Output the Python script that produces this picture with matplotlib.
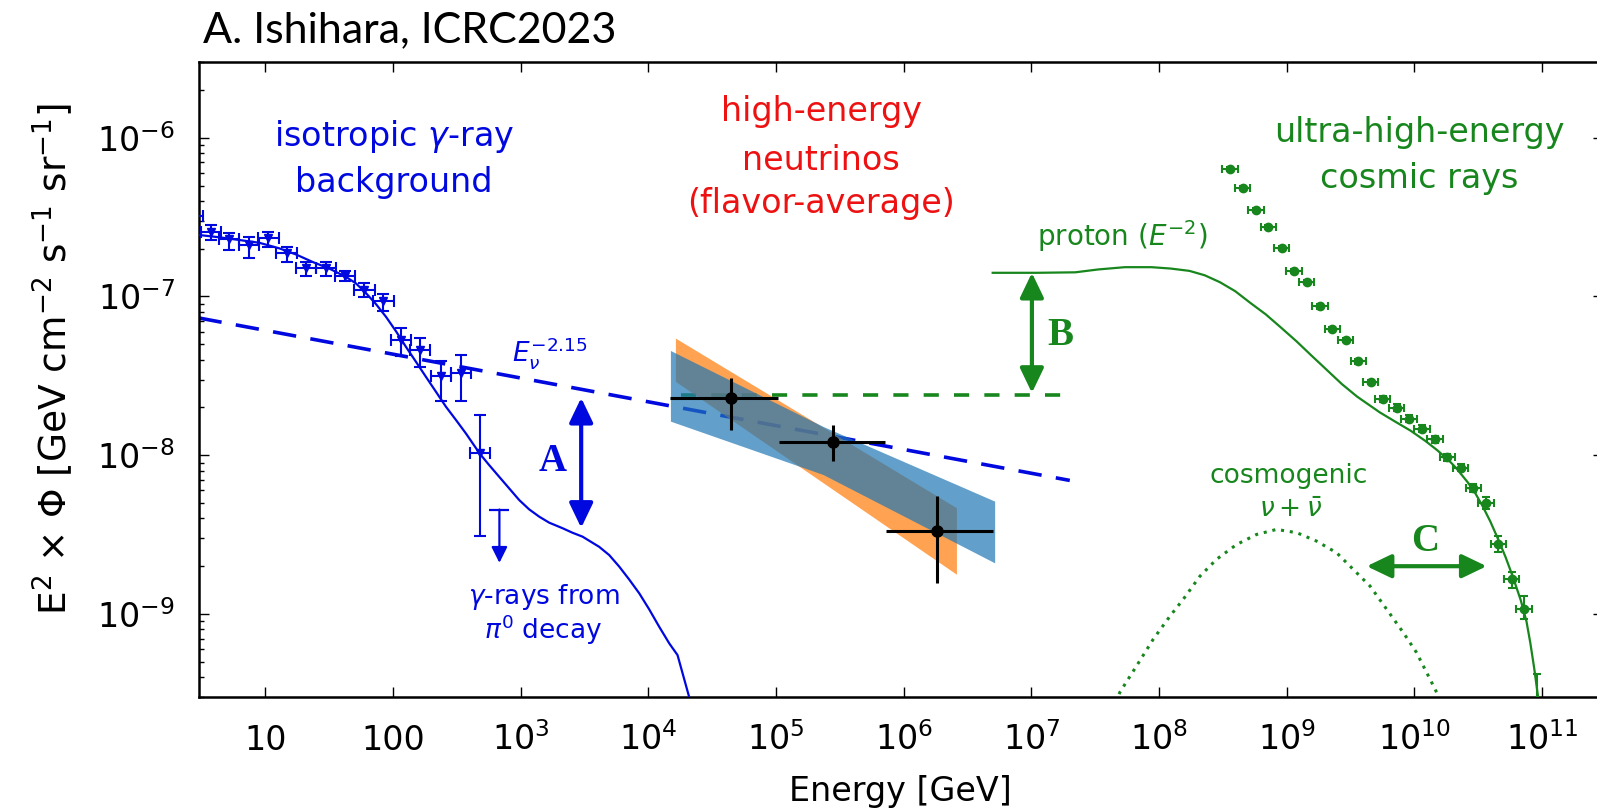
import matplotlib
matplotlib.use('Agg')
import matplotlib.pyplot as plt
import numpy as np

BLUE = '#0008e0'
GREEN = '#17861c'
RED = '#ee1111'

# isotropic gamma-ray background points (GeV, GeV cm^-2 s^-1 sr^-1)
igrb_e = [2.7, 3.75, 5.22, 7.49, 10.6, 14.7, 20.8, 29.9, 42.1, 59.7, 84.1, 116, 163, 238, 342, 482]
igrb_flux = [3.2e-7, 2.56e-7, 2.30e-7, 2.11e-7, 2.33e-7, 1.87e-7, 1.51e-7, 1.51e-7, 1.35e-7,
             1.10e-7, 9.3e-8, 5.3e-8, 4.6e-8, 3.14e-8, 3.3e-8, 1.03e-8]
igrb_lo = [2.9e-7, 2.27e-7, 1.97e-7, 1.74e-7, 2.06e-7, 1.66e-7, 1.34e-7, 1.34e-7, 1.25e-7,
           9.9e-8, 8.1e-8, 4.2e-8, 3.6e-8, 2.2e-8, 2.2e-8, 3.1e-9]
igrb_hi = [3.5e-7, 2.82e-7, 2.50e-7, 2.36e-7, 2.56e-7, 2.06e-7, 1.66e-7, 1.66e-7, 1.44e-7,
           1.22e-7, 1.04e-7, 6.3e-8, 5.5e-8, 3.9e-8, 4.3e-8, 1.80e-8]
igrb_bin_dex = 0.08
igrb_ul_e = 682
igrb_ul_flux = 4.55e-9
igrb_ul_tip = 2.1e-9

# gamma rays from pi0 decay
pi0_e = [3.04, 4.37, 6.25, 8.97, 12.9, 17.4, 23.5, 31.7, 42.8, 51.3, 61.5, 73.6, 88.2, 105.5,
         126.4, 151.4, 181.2, 217.3, 260.2, 311.2, 373.3, 480, 567, 679, 814, 975, 1167, 1400,
         1675, 2130, 2547, 3055, 3656, 4121, 4943, 5915, 7080, 8490, 10160, 12170, 14590,
         16940, 20890, 25060]
pi0_flux = [2.44e-7, 2.36e-7, 2.27e-7, 2.18e-7, 2.01e-7, 1.84e-7, 1.65e-7, 1.50e-7, 1.33e-7,
            1.21e-7, 1.05e-7, 8.96e-8, 7.45e-8, 6.05e-8, 4.82e-8, 3.88e-8, 3.12e-8, 2.51e-8,
            2.02e-8, 1.67e-8, 1.37e-8, 1.02e-8, 8.67e-9, 7.32e-9, 6.18e-9, 5.22e-9, 4.56e-9,
            4.10e-9, 3.76e-9, 3.47e-9, 3.25e-9, 3.07e-9, 2.81e-9, 2.65e-9, 2.35e-9, 1.99e-9,
            1.65e-9, 1.35e-9, 1.07e-9, 8.31e-10, 6.53e-10, 5.51e-10, 3.0e-10, 1.85e-10]

# E^-2.15 neutrino power law
pl_e = [3.0, 2.0e7]
pl_flux = [7.33e-8, 6.94e-9]

# neutrino bands
orange_e = [1.63e4, 2.59e6]
orange_lo = [2.92e-8, 1.78e-9]
orange_hi = [5.47e-8, 4.67e-9]
blue_band_e = [1.49e4, 2.33e5, 5.16e6]
blue_band_lo = [1.64e-8, 7.57e-9, 2.10e-9]
blue_band_hi = [4.57e-8, 1.52e-8, 5.14e-9]

# neutrino data points
nu_e = [4.47e4, 2.79e5, 1.84e6]
nu_e_lo = [1.49e4, 1.05e5, 7.23e5]
nu_e_hi = [1.03e5, 7.19e5, 5.01e6]
nu_flux = [2.28e-8, 1.22e-8, 3.33e-9]
nu_lo = [1.45e-8, 9.26e-9, 1.57e-9]
nu_hi = [3.07e-8, 1.54e-8, 5.52e-9]

# green dashed level
cr_nu_e = [1.8e4, 1.9e7]
cr_nu_flux = [2.38e-8, 2.38e-8]

# proton (E^-2) model
proton_e = [4.98e6, 1.11e7, 2.21e7, 3.33e7, 5.40e7, 8.71e7, 1.23e8, 1.73e8, 2.28e8, 3.00e8,
            3.95e8, 5.20e8, 6.85e8, 9.02e8, 1.19e9, 1.56e9, 2.05e9, 2.70e9, 3.56e9, 5.37e9,
            7.06e9, 9.31e9, 1.22e10, 1.50e10, 1.85e10, 2.12e10, 2.61e10, 2.99e10, 3.43e10,
            3.93e10, 4.51e10, 5.18e10, 5.94e10, 6.81e10, 7.55e10, 8.09e10, 8.67e10, 9.29e10,
            9.62e10]
proton_flux = [1.41e-7, 1.41e-7, 1.42e-7, 1.48e-7, 1.53e-7, 1.53e-7, 1.50e-7, 1.45e-7, 1.36e-7,
               1.23e-7, 1.08e-7, 9.1e-8, 7.72e-8, 6.37e-8, 5.23e-8, 4.25e-8, 3.46e-8, 2.81e-8,
               2.34e-8, 1.86e-8, 1.63e-8, 1.43e-8, 1.23e-8, 1.08e-8, 9.33e-9, 8.32e-9, 6.77e-9,
               5.79e-9, 4.76e-9, 3.83e-9, 2.98e-9, 2.28e-9, 1.69e-9, 1.22e-9, 8.97e-10,
               6.57e-10, 4.57e-10, 3.03e-10, 2.10e-10]

# UHECR data
uhecr_e = [3.59e8, 4.51e8, 5.74e8, 7.16e8, 9.12e8, 1.14e9, 1.43e9, 1.82e9, 2.27e9, 2.89e9,
           3.63e9, 4.54e9, 5.64e9, 7.26e9, 9.07e9, 1.15e10, 1.45e10, 1.81e10, 2.31e10, 2.90e10,
           3.64e10, 4.54e10, 5.78e10, 7.22e10, 9.08e10]
uhecr_flux = [6.32e-7, 4.85e-7, 3.51e-7, 2.73e-7, 2.03e-7, 1.45e-7, 1.24e-7, 8.65e-8, 6.26e-8,
              5.34e-8, 3.90e-8, 2.90e-8, 2.26e-8, 1.99e-8, 1.70e-8, 1.47e-8, 1.26e-8, 9.71e-9,
              8.33e-9, 6.24e-9, 5.02e-9, 2.77e-9, 1.65e-9, 1.07e-9, 2.6e-10]
uhecr_err_lo = [0.03, 0.03, 0.03, 0.03, 0.03, 0.03, 0.03, 0.03, 0.03, 0.03, 0.03, 0.03, 0.04,
                0.05, 0.05, 0.05, 0.05, 0.05, 0.05, 0.06, 0.08, 0.11, 0.11, 0.13, 0.0]
uhecr_err_hi = [0.03, 0.03, 0.03, 0.03, 0.03, 0.03, 0.03, 0.03, 0.03, 0.03, 0.03, 0.03, 0.04,
                0.05, 0.05, 0.05, 0.05, 0.05, 0.05, 0.06, 0.08, 0.12, 0.12, 0.22, 0.61]
uhecr_bin_dex = 0.06

# cosmogenic neutrinos
cosmo_e = [4.11e7, 4.93e7, 6.67e7, 9.0e7, 1.22e8, 1.55e8, 2.09e8, 2.82e8, 4.05e8, 5.81e8, 8.33e8,
           1.20e9, 1.71e9, 2.46e9, 3.32e9, 4.49e9, 6.07e9, 8.18e9, 1.04e10, 1.41e10, 1.54e10, 1.90e10]
cosmo_flux = [2.18e-10, 3.21e-10, 4.71e-10, 6.93e-10, 9.71e-10, 1.24e-9, 1.73e-9, 2.21e-9, 2.74e-9,
              3.17e-9, 3.41e-9, 3.25e-9, 2.88e-9, 2.43e-9, 1.91e-9, 1.50e-9, 1.07e-9, 7.64e-10,
              5.71e-10, 3.52e-10, 3.05e-10, 1.88e-10]

xtick_vals = [1e1, 1e2, 1e3, 1e4, 1e5, 1e6, 1e7, 1e8, 1e9, 1e10, 1e11]
xtick_labels = ['10', '100', r'$10^{3}$', r'$10^{4}$', r'$10^{5}$', r'$10^{6}$', r'$10^{7}$',
                r'$10^{8}$', r'$10^{9}$', r'$10^{10}$', r'$10^{11}$']
ytick_vals = [1e-9, 1e-8, 1e-7, 1e-6]
ytick_labels = [r'$10^{-9}$', r'$10^{-8}$', r'$10^{-7}$', r'$10^{-6}$']

fig = plt.figure(figsize=(15.97, 8.10), dpi=100)
ax = fig.add_axes([198.5 / 1597, 113 / 810, 1404.5 / 1597, 635 / 810])
ax.set_xscale('log')
ax.set_yscale('log')
ax.set_xlim(3, 3e11)
ax.set_ylim(3e-10, 3e-6)

# gamma-ray side
e = np.array(igrb_e)
f = np.array(igrb_flux)
ax.errorbar(e, f, xerr=[e - e / 10**igrb_bin_dex, e * 10**igrb_bin_dex - e],
            yerr=[f - np.array(igrb_lo), np.array(igrb_hi) - f],
            fmt='v', ms=6, color=BLUE, elinewidth=1.5, capsize=4, capthick=1.5, zorder=3)
ax.plot(igrb_ul_e, igrb_ul_flux, marker='_', ms=14, mew=1.6, color=BLUE, zorder=3)
ax.annotate('', xy=(igrb_ul_e, igrb_ul_tip), xytext=(igrb_ul_e, igrb_ul_flux),
            arrowprops=dict(arrowstyle='-|>,head_length=0.8,head_width=0.4', lw=1.6,
                            color=BLUE, mutation_scale=12, shrinkA=0, shrinkB=0))
ax.plot(pi0_e, pi0_flux, color=BLUE, lw=1.6, zorder=3)
ax.plot(pl_e, pl_flux, color=BLUE, lw=2.6, linestyle=(0, (6.5, 4.0)), zorder=2)

# neutrinos
ax.plot(cr_nu_e, cr_nu_flux, color=GREEN, lw=2.6, linestyle=(0, (4.2, 4.2)), zorder=2)
ax.fill_between(orange_e, orange_lo, orange_hi, color='#ff7f0e', alpha=0.72, lw=0, zorder=4)
ax.fill_between(blue_band_e, blue_band_lo, blue_band_hi, color='#1f77b4', alpha=0.7, lw=0, zorder=5)
ne = np.array(nu_e)
nf = np.array(nu_flux)
ax.errorbar(ne, nf, xerr=[ne - np.array(nu_e_lo), np.array(nu_e_hi) - ne],
            yerr=[nf - np.array(nu_lo), np.array(nu_hi) - nf],
            fmt='o', ms=8, color='black', elinewidth=2.2, capsize=0, zorder=6)

# cosmic rays
ax.plot(proton_e, proton_flux, color=GREEN, lw=1.6, zorder=3)
ue = np.array(uhecr_e)
uf = np.array(uhecr_flux)
ax.errorbar(ue, uf, xerr=[ue - ue / 10**uhecr_bin_dex, ue * 10**uhecr_bin_dex - ue],
            yerr=[uf * np.array(uhecr_err_lo), uf * np.array(uhecr_err_hi)],
            fmt='o', ms=6, color=GREEN, elinewidth=1.5, capsize=3, capthick=1.5, zorder=3)
ax.plot(cosmo_e, cosmo_flux, color=GREEN, lw=2.2, linestyle=(0, (1, 1.9)), zorder=3)


def double_arrow(p0, p1, color):
    ax.annotate('', xy=p1, xytext=p0,
                arrowprops=dict(arrowstyle='<|-|>,head_length=0.75,head_width=0.36', lw=3,
                                color=color, mutation_scale=20, shrinkA=0, shrinkB=0),
                zorder=7)


double_arrow((2980, 2.30e-8), (2980, 3.49e-9), BLUE)
double_arrow((1.01e7, 1.41e-7), (1.01e7, 2.47e-8), GREEN)
double_arrow((4.23e9, 2.0e-9), (3.68e10, 2.0e-9), GREEN)

serif = dict(family='Liberation Serif', weight='bold', fontsize=28, ha='center', va='baseline')
ax.text(1766, 7.93e-9, 'A', color=BLUE, **serif)
ax.text(1.68e7, 4.94e-8, 'B', color=GREEN, **serif)
ax.text(1.21e10, 2.49e-9, 'C', color=GREEN, **serif)


def label(x, y, s, color, size):
    ax.text(x, y, s, color=color, fontsize=size, ha='center', va='baseline', zorder=8)


label(102, 8.91e-7, r'isotropic $\gamma$-ray', BLUE, 24)
label(102, 4.57e-7, 'background', BLUE, 24)
label(2.26e5, 1.27e-6, 'high-energy', RED, 24)
label(2.26e5, 6.3e-7, 'neutrinos', RED, 24)
label(2.26e5, 3.34e-7, '(flavor-average)', RED, 24)
label(1.09e10, 9.44e-7, 'ultra-high-energy', GREEN, 24)
label(1.09e10, 4.80e-7, 'cosmic rays', GREEN, 24)
label(5.14e7, 2.07e-7, r'proton ($E^{-2}$)', GREEN, 20)
label(1.03e9, 6.65e-9, 'cosmogenic', GREEN, 19)
label(1.07e9, 4.10e-9, r'$\nu + \bar{\nu}$', GREEN, 19)
label(1531, 1.15e-9, r'$\gamma$-rays from', BLUE, 19)
label(1490, 7.0e-10, r'$\pi^0$ decay', BLUE, 19)
ax.text(859, 3.88e-8, r'$E_{\nu}^{-2.15}$', color=BLUE, fontsize=19, ha='left', va='baseline')

# axes styling
ax.set_xticks(xtick_vals, labels=xtick_labels)
ax.set_yticks(ytick_vals, labels=ytick_labels)
ax.xaxis.set_minor_formatter(matplotlib.ticker.NullFormatter())
ax.yaxis.set_minor_formatter(matplotlib.ticker.NullFormatter())
ax.tick_params(which='both', direction='in', top=True, right=True, width=1)
ax.tick_params(which='major', length=7, labelsize=24)
ax.tick_params(which='minor', length=3.5)
ax.tick_params(axis='y', pad=17)
ax.tick_params(axis='x', pad=38)
for t in ax.xaxis.get_major_ticks():
    t.label1.set_verticalalignment('baseline')
for s in ax.spines.values():
    s.set_linewidth(1.8)

ax.set_xlabel('Energy [GeV]', fontsize=24)
ax.xaxis.set_label_coords(0.5, -0.1228)
ax.set_ylabel(r'E$^{2}$ × Φ [GeV cm$^{-2}$ s$^{-1}$ sr$^{-1}$]', fontsize=27)
ax.yaxis.set_label_coords(-0.088, 0.532)

fig.text(203 / 1597, 1 - 42 / 810, 'A. Ishihara, ICRC2023', fontsize=31, family='Lato',
         va='baseline', ha='left')

fig.savefig('out.png', dpi=100, facecolor='white')
